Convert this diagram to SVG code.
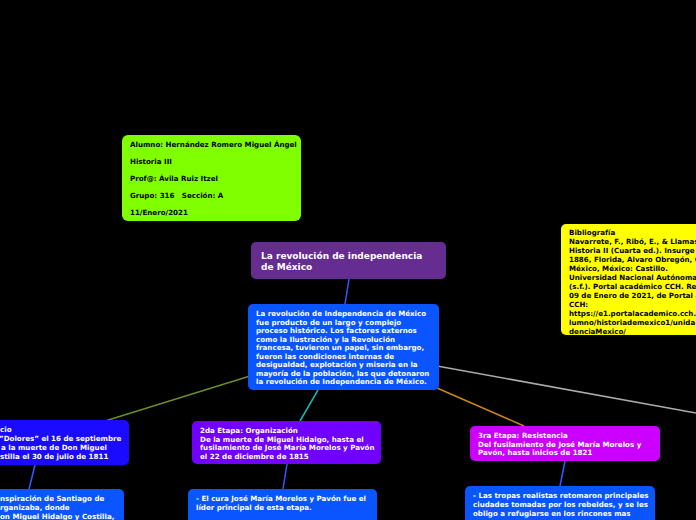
<svg xmlns="http://www.w3.org/2000/svg" width="696" height="520" viewBox="0 0 696 520">
<style>
text{font-family:"DejaVu Sans",Verdana,sans-serif;font-weight:bold;font-size:7.1px;fill:#fff}
.dk{fill:#000}
.ttl{font-size:9px}
line{stroke-width:1.5;fill:none}
</style>
<rect x="0" y="0" width="696" height="520" fill="#000"/>
<g id="connectors">
<line x1="349" y1="279" x2="345" y2="304" stroke="#2e5bff"/>
<line x1="250" y1="376" x2="105" y2="421" stroke="#6b8e23"/>
<line x1="318" y1="390" x2="300" y2="421" stroke="#19b5b0"/>
<line x1="437" y1="388" x2="524" y2="426" stroke="#c8871c"/>
<line x1="437" y1="366" x2="696" y2="413" stroke="#aaaaaa"/>
<line x1="35" y1="465" x2="29" y2="489" stroke="#2e5bff"/>
<line x1="287" y1="464" x2="283" y2="489" stroke="#2e5bff"/>
<line x1="565" y1="461" x2="560" y2="486" stroke="#2e5bff"/>
</g>
<g id="student">
<rect x="122" y="135" width="179" height="86" rx="6" fill="#80ff00"/>
<text class="dk" x="130" y="147">Alumno: Hernández Romero Miguel Ángel</text>
<text class="dk" x="130" y="164">Historia III</text>
<text class="dk" x="130" y="181">Prof@: Ávila Ruiz Itzel</text>
<text class="dk" x="130" y="198" xml:space="preserve">Grupo: 316   Sección: A</text>
<text class="dk" x="130" y="215">11/Enero/2021</text>
</g>
<g id="title">
<rect x="251" y="242" width="195" height="37" rx="5" fill="#662d91"/>
<text class="ttl" x="261" y="259">La revolución de independencia</text>
<text class="ttl" x="261" y="270">de México</text>
</g>
<g id="main">
<rect x="248" y="304" width="191" height="86" rx="5" fill="#0a55ff"/>
<text x="256" y="316">La revolución de Independencia de México</text>
<text x="256" y="324.5">fue producto de un largo y complejo</text>
<text x="256" y="333">proceso histórico. Los factores externos</text>
<text x="256" y="341.5">como la Ilustración y la Revolución</text>
<text x="256" y="350">francesa, tuvieron un papel, sin embargo,</text>
<text x="256" y="358.5">fueron las condiciones internas de</text>
<text x="256" y="367">desigualdad, explotación y miseria en la</text>
<text x="256" y="375.5">mayoría de la población, las que detonaron</text>
<text x="256" y="384">la revolución de Independencia de México.</text>
</g>
<g id="biblio">
<rect x="561" y="224" width="150" height="111" rx="5" fill="#ffff00"/>
<text class="dk" x="569" y="235">Bibliografía</text>
<text class="dk" x="569" y="244">Navarrete, F., Ribó, E., &amp; Llamas</text>
<text class="dk" x="569" y="253">Historia II (Cuarta ed.). Insurge</text>
<text class="dk" x="569" y="262">1886, Florida, Alvaro Obregón, C</text>
<text class="dk" x="569" y="271">México, México: Castillo.</text>
<text class="dk" x="569" y="280">Universidad Nacional Autónoma</text>
<text class="dk" x="569" y="289">(s.f.). Portal académico CCH. Rec</text>
<text class="dk" x="569" y="298">09 de Enero de 2021, de Portal a</text>
<text class="dk" x="569" y="307">CCH:</text>
<text class="dk" x="569" y="316">https://e1.portalacademico.cch.</text>
<text class="dk" x="569" y="325">lumno/historiademexico1/unida</text>
<text class="dk" x="569" y="334">denciaMexico/</text>
</g>
<g id="etapa1">
<rect x="-20" y="420" width="149" height="45" rx="5" fill="#1a0aff"/>
<text x="0" y="432">cio</text>
<text x="-1" y="441">”Dolores” el 16 de septiembre</text>
<text x="1" y="450">a la muerte de Don Miguel</text>
<text x="0" y="459">stilla el 30 de julio de 1811</text>
</g>
<g id="etapa1-det">
<rect x="-20" y="489" width="144" height="40" rx="5" fill="#0a55ff"/>
<text x="0" y="501">nspiración de Santiago de</text>
<text x="0" y="510">rganizaba, donde</text>
<text x="0" y="519">on Miguel Hidalgo y Costilla,</text>
</g>
<g id="etapa2">
<rect x="192" y="421" width="189" height="43" rx="5" fill="#7000ff"/>
<text x="200" y="433">2da Etapa: Organización</text>
<text x="200" y="441.5">De la muerte de Miguel Hidalgo, hasta el</text>
<text x="200" y="450">fusilamiento de José María Morelos y Pavón</text>
<text x="200" y="458.5">el 22 de diciembre de 1815</text>
</g>
<g id="etapa2-det">
<rect x="188" y="489" width="189" height="40" rx="5" fill="#0a55ff"/>
<text x="196" y="501">- El cura José María Morelos y Pavón fue el</text>
<text x="196" y="510">líder principal de esta etapa.</text>
</g>
<g id="etapa3">
<rect x="470" y="426" width="190" height="35" rx="5" fill="#cc00ff"/>
<text x="478" y="438">3ra Etapa: Resistencia</text>
<text x="478" y="446.5">Del fusilamiento de José María Morelos y</text>
<text x="478" y="455">Pavón, hasta inicios de 1821</text>
</g>
<g id="etapa3-det">
<rect x="465" y="486" width="190" height="44" rx="5" fill="#0a55ff"/>
<text x="473" y="498">- Las tropas realistas retomaron principales</text>
<text x="473" y="507">ciudades tomadas por los rebeldes, y se les</text>
<text x="473" y="516">obligo a refugiarse en los rincones mas</text>
</g>
</svg>
